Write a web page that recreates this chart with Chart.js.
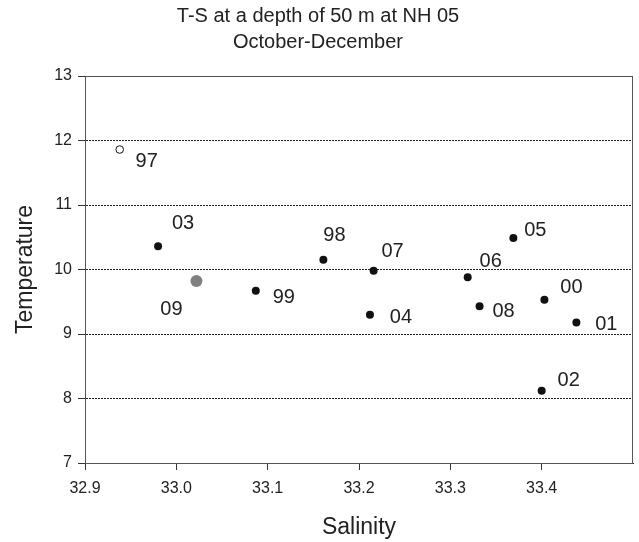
<!DOCTYPE html>
<html>
<head>
<meta charset="utf-8">
<title>T-S at NH 05</title>
<script src="https://cdn.jsdelivr.net/npm/chart.js@4/dist/chart.umd.min.js"></script>
<style>
  html, body { margin: 0; padding: 0; background: #fff; }
  #wrap { width: 639px; height: 542px; }
</style>
</head>
<body>
<div id="wrap"><canvas id="chart" width="639" height="542"></canvas></div>
<script>
// year labels and T-S values at 50 m, Oct-Dec
let years = ["97", "98", "99", "00", "01", "02", "03", "04", "05", "06", "07", "08", "09"];
let salinity = [32.938, 33.161, 33.087, 33.403, 33.438, 33.400, 32.980, 33.212, 33.369, 33.319, 33.216, 33.332, 33.022];
let temperature = [11.86, 10.15, 9.67, 9.53, 9.18, 8.12, 10.36, 9.30, 10.49, 9.88, 9.98, 9.43, 9.82];

let xTicks = [32.9, 33.0, 33.1, 33.2, 33.3, 33.4];
let yTicks = [7, 8, 9, 10, 11, 12, 13];

let openYears = ["97"];
let grayYears = ["09"];

function pointsFor(filter) {
    let pts = [];
    years.forEach((yr, i) => {
        if (filter(yr)) pts.push({ x: salinity[i], y: temperature[i], yr: yr });
    });
    return pts;
}

// where each year label sits relative to its dot
let labelOffset = {
    "97": [27, 12], "98": [11, -24], "99": [28, 7], "00": [27, -12],
    "01": [30, 2], "02": [27, -10], "03": [25, -23], "04": [31, 3],
    "05": [22, -7], "06": [23, -16], "07": [19, -19], "08": [24, 5],
    "09": [-25, 28]
};

let font = "Arial, 'Liberation Sans', Helvetica, sans-serif";

let yearLabels = {
    id: "yearLabels",
    afterDatasetsDraw(chart) {
        let ctx = chart.ctx;
        let xs = chart.scales.x, ys = chart.scales.y;
        ctx.save();
        ctx.font = "20px " + font;
        ctx.fillStyle = "#222";
        ctx.textAlign = "center";
        ctx.textBaseline = "middle";
        years.forEach((yr, i) => {
            let off = labelOffset[yr];
            ctx.fillText(yr, xs.getPixelForValue(salinity[i]) + off[0], ys.getPixelForValue(temperature[i]) + off[1]);
        });
        ctx.restore();
    }
};

// box round the plot area
let frame = {
    id: "frame",
    beforeDatasetsDraw(chart) {
        let a = chart.chartArea;
        let ctx = chart.ctx;
        ctx.save();
        ctx.strokeStyle = "#555";
        ctx.lineWidth = 1;
        ctx.strokeRect(Math.round(a.left) + 0.5, Math.round(a.top) + 0.5, Math.round(a.right - a.left) - 1, Math.round(a.bottom - a.top));
        ctx.restore();
    }
};

new Chart(document.getElementById("chart"), {
    type: "scatter",
    data: {
        datasets: [
            {
                data: pointsFor(yr => !openYears.includes(yr) && !grayYears.includes(yr)),
                backgroundColor: "#111",
                borderColor: "#111",
                pointRadius: 4,
                borderWidth: 0
            },
            {
                data: pointsFor(yr => openYears.includes(yr)),
                backgroundColor: "#fff",
                borderColor: "#111",
                pointRadius: 3.8,
                borderWidth: 1
            },
            {
                data: pointsFor(yr => grayYears.includes(yr)),
                backgroundColor: "#808080",
                borderColor: "#808080",
                pointRadius: 6,
                borderWidth: 0
            }
        ]
    },
    options: {
        responsive: false,
        animation: false,
        events: [],
        layout: { padding: { left: 0, right: 3, top: 0, bottom: 0 } },
        plugins: {
            legend: { display: false },
            tooltip: { enabled: false },
            title: {
                display: true,
                text: ["T-S at a depth of 50 m at NH 05", "October-December"],
                color: "#222",
                font: { family: font, size: 20, weight: "normal", lineHeight: 1.3 },
                padding: { top: 3, bottom: 21 }
            }
        },
        scales: {
            x: {
                type: "linear",
                min: 32.9,
                max: 33.5,
                afterBuildTicks: s => { s.ticks = xTicks.map(v => ({ value: v })); },
                afterFit: s => { s.height = 79; },
                ticks: {
                    color: "#222",
                    font: { family: font, size: 16 },
                    padding: 9,
                    maxRotation: 0,
                    callback: v => v.toFixed(1)
                },
                grid: {
                    drawOnChartArea: false,
                    tickLength: 7,
                    tickColor: "#333"
                },
                border: { color: "#333", width: 1 },
                title: {
                    display: true,
                    text: "Salinity",
                    color: "#222",
                    font: { family: font, size: 23 },
                    padding: { top: 4, bottom: 1 }
                }
            },
            y: {
                type: "linear",
                min: 7,
                max: 13,
                afterBuildTicks: s => { s.ticks = yTicks.map(v => ({ value: v })); },
                afterFit: s => { s.width = 85; },
                ticks: {
                    color: "#222",
                    font: { family: font, size: 16 },
                    padding: 6
                },
                grid: {
                    color: c => (c.tick && (c.tick.value === 7 || c.tick.value === 13)) ? "rgba(0,0,0,0)" : "#222",
                    tickBorderDash: [],
                    tickLength: 7,
                    tickColor: "#333"
                },
                border: { color: "#333", width: 1, dash: [2, 1] },
                title: {
                    display: true,
                    text: "Temperature",
                    color: "#222",
                    font: { family: font, size: 23 },
                    padding: { top: 12, bottom: 4 }
                }
            }
        }
    },
    plugins: [frame, yearLabels]
});
</script>
</body>
</html>
